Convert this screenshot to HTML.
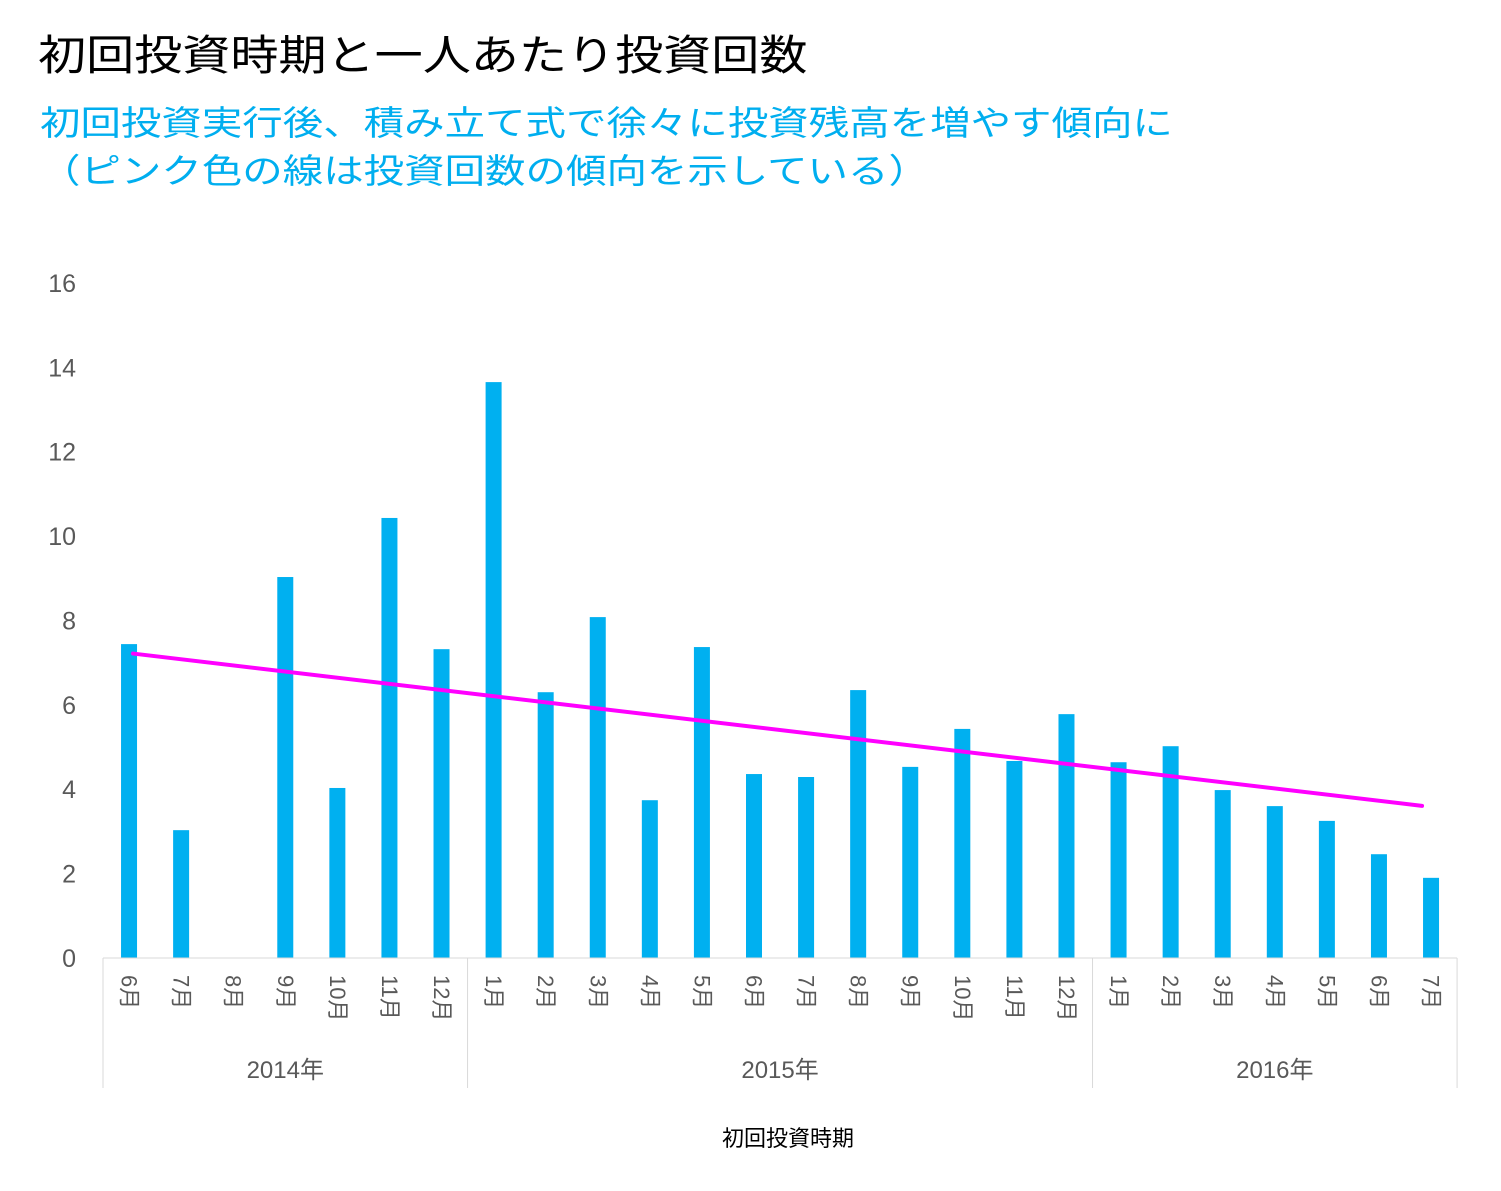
<!DOCTYPE html>
<html><head><meta charset="utf-8">
<style>
body{margin:0;background:#fff;width:1501px;height:1191px;overflow:hidden;font-family:"Liberation Sans","Noto Sans CJK JP",sans-serif;}
#t{position:absolute;left:38px;top:22px;font-size:42px;color:#000;white-space:nowrap;transform:scaleX(1.145);transform-origin:0 0;}
#s{position:absolute;left:40px;top:100px;font-size:34px;line-height:48px;color:#00AEEF;white-space:nowrap;transform:scaleX(1.19);transform-origin:0 0;}
svg{position:absolute;left:0;top:0;}
</style></head><body>
<div id="t">初回投資時期と一人あたり投資回数</div>
<div id="s">初回投資実行後、積み立て式で徐々に投資残高を増やす傾向に<br>（ピンク色の線は投資回数の傾向を示している）</div>
<svg id="c" width="1501" height="1191"></svg>
<script>
const months=["6月","7月","8月","9月","10月","11月","12月","1月","2月","3月","4月","5月","6月","7月","8月","9月","10月","11月","12月","1月","2月","3月","4月","5月","6月","7月"];
const values=[7.44,3.03,0,9.03,4.03,10.43,7.32,13.65,6.3,8.08,3.74,7.37,4.36,4.29,6.35,4.53,5.43,4.67,5.78,4.64,5.02,3.98,3.6,3.25,2.46,1.9];
const years=["2014年","2015年","2016年"];
const yearStarts=[0,7,19];
const yTicks=[0,2,4,6,8,10,12,14,16];
const NS="http://www.w3.org/2000/svg";
const svg=document.getElementById('c');
const y0=958,pxU=42.19,x0=103,step=52.08;
const y=v=>y0-v*pxU;
const xc=i=>x0+step*(i+0.5);
function mk(tag,attrs,txt){const e=document.createElementNS(NS,tag);for(const k in attrs)e.setAttribute(k,attrs[k]);if(txt!==undefined)e.textContent=txt;svg.appendChild(e);return e;}
yTicks.forEach(t=>{
 const e=mk('text',{x:76,y:y(t)+9,'text-anchor':'end','font-size':25,fill:'#595959','font-family':'Liberation Sans, sans-serif'},t);
 
 
});
values.forEach((v,i)=>{
 const r=mk('rect',{x:xc(i)-8,y:y(v),width:16,height:v*pxU,fill:'#00B0F0'});
 
 
});
const xEnd=x0+step*months.length;
const ax=mk('line',{x1:x0,y1:y0,x2:xEnd,y2:y0,stroke:'#d9d9d9','stroke-width':1});


months.forEach((m,i)=>{
 const tx=xc(i),ty=975;
 const e=mk('text',{x:tx,y:ty,transform:`rotate(90 ${tx} ${ty})`,'dominant-baseline':'central','font-size':22,fill:'#595959'},m);
 
 
});
const bounds=yearStarts.concat([months.length]);
bounds.forEach(b=>{
 const l=mk('line',{x1:x0+step*b,y1:y0,x2:x0+step*b,y2:1088,stroke:'#d9d9d9','stroke-width':1});
 
 
});
years.forEach((yr,k)=>{
 const cx=x0+step*(bounds[k]+bounds[k+1])/2;
 const e=mk('text',{x:cx,y:1078,'text-anchor':'middle','font-size':24,fill:'#595959'},yr);
 
 
});
// linear trendline from data
let n=0,sx=0,sy=0,sxx=0,sxy=0;
values.forEach((v,i)=>{n++;sx+=i;sy+=v;sxx+=i*i;sxy+=i*v;});
const slope=(n*sxy-sx*sy)/(n*sxx-sx*sx),icpt=(sy-slope*sx)/n;
const N=values.length;
const tl=mk('line',{x1:xc(0)+4,y1:y(icpt),x2:xc(N-1)-9,y2:y(icpt+slope*(N-1)),stroke:'#FF00FF','stroke-width':4,'stroke-linecap':'round'});


const at=mk('text',{x:788,y:1146,'text-anchor':'middle','font-size':22,fill:'#000'},'初回投資時期');


</script>
</body></html>
